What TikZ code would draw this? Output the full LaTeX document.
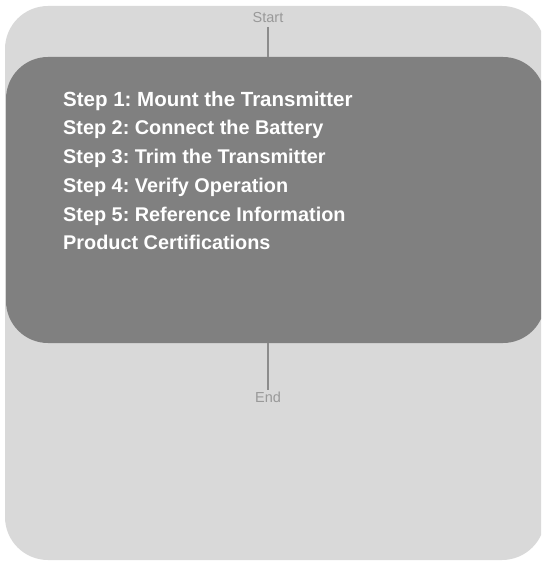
\documentclass[tikz,border=0pt]{standalone}
\usepackage{fontspec}
\setmainfont{Liberation Sans}
\frenchspacing
\definecolor{outerbg}{HTML}{D9D9D9}
\definecolor{innerbg}{HTML}{808080}
\definecolor{linegray}{HTML}{8C8C8C}
\definecolor{labelgray}{HTML}{999999}
\tikzset{
  outerpanel/.style={fill=outerbg, draw=none, rounded corners=43pt},
  mainbox/.style={fill=innerbg, draw=none, rounded corners=42pt, inner sep=0pt, outer sep=0pt},
  endlabel/.style={text=labelgray, font=\fontsize{14.5}{16}\selectfont, inner sep=0pt},
  stepline/.style={text=white, font=\bfseries\fontsize{19.85}{22}\selectfont, anchor=base west, inner sep=0pt},
  firstline/.style={stepline, font=\bfseries\fontsize{20.5}{22}\selectfont},
  connector/.style={draw=linegray, line width=2.5pt}
}
\begin{document}
\begin{tikzpicture}[x=1pt,y=-1pt]
\useasboundingbox (0,0) rectangle (541,561);
\clip (0,0) rectangle (541,561);
\fill[outerpanel] (5,6) rectangle (545,560);
\node[mainbox, minimum width=539pt, minimum height=286pt] (main) at (275.5,200) {};
\node[endlabel] (start) at (268,18) {Start};
\node[endlabel] (end) at (268,397) {End};
\draw[connector] (start.south |- 0,27) -- (start.south |- main.north);
\draw[connector] (end.north |- main.south) -- (end.north |- 0,390);
\node[firstline] (s1) at (63,106.5) {Step 1: Mount the Transmitter};
\node[stepline] (s2) at (63,135) {Step 2: Connect the Battery};
\node[stepline] (s3) at (63,164) {Step 3: Trim the Transmitter};
\node[stepline] (s4) at (63,193) {Step 4: Verify Operation};
\node[stepline] (s5) at (63,221) {Step 5: Reference Information};
\node[stepline] (s6) at (63,249) {Product Certifications};
\end{tikzpicture}
\end{document}
